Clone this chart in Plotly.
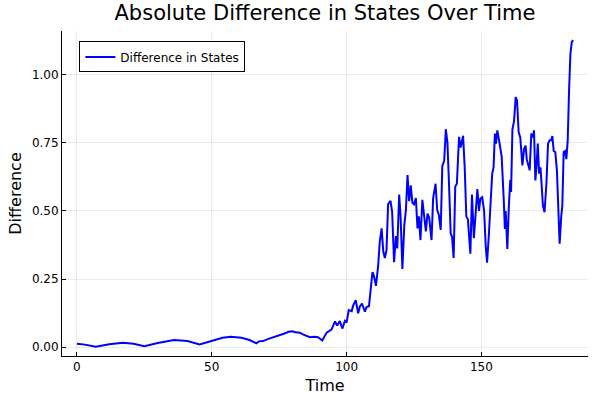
import plotly.graph_objects as go

time = [0, 3, 7, 12, 17, 21, 25, 30, 36, 41, 45.5, 50, 54, 57, 61, 64, 65.5, 66.5, 67.5, 69,
        71, 73, 75, 77, 78.5, 80, 81, 82.7, 84, 86.4, 88, 89.4, 91, 92.6, 94.4, 95.7, 96.5, 97.5,
        98.4, 99.4, 100, 100.8, 101.9, 102.5, 103.4, 104.3, 104.9, 105.7, 106.8, 107.4, 108.3,
        108.9, 109.6, 110.1, 110.9, 111.7, 112.3, 113, 113.6, 114.2, 114.8, 115.4, 116.3, 116.9,
        117.6, 118.3, 118.8, 119.5, 120, 120.7, 121.4, 122, 122.6, 123.2, 123.8, 124.4, 125,
        125.7, 126.3, 126.8, 127.4, 128.1, 128.7, 129.4, 130, 130.6, 131.5, 132.1, 133, 133.6,
        134.2, 134.9, 135.5, 136.2, 136.8, 137.4, 138, 138.6, 139.1, 139.7, 140.3, 140.9, 141.7,
        142.3, 143.2, 143.8, 144.4, 145, 145.9, 146.5, 147.2, 147.9, 148.5, 149.1, 149.6, 150.3,
        151, 151.6, 152.1, 152.8, 153.3, 154, 154.5, 155, 155.4, 155.9, 156.7, 157.5, 158.3,
        158.7, 159, 159.6, 160.2, 160.7, 161, 161.5, 162.1, 162.7, 163.2, 163.8, 164.4, 165.2,
        165.8, 166.4, 166.8, 167.4, 167.9, 168.5, 169.1, 169.5, 170, 170.4, 170.9, 171.4, 171.9,
        172.3, 172.8, 173.4, 174.1, 174.7, 175.3, 175.9, 176.3, 176.8, 177.4, 178, 178.5, 179,
        179.6, 180, 180.5, 181, 181.5, 182, 182.5, 183, 183.5, 184]

difference = [0.012, 0.009, 0.001, 0.010, 0.016, 0.012, 0.003, 0.015, 0.026, 0.022, 0.010, 0.022,
              0.034, 0.038, 0.034, 0.026, 0.020, 0.014, 0.021, 0.022, 0.030, 0.036, 0.044, 0.050,
              0.056, 0.058, 0.054, 0.053, 0.046, 0.036, 0.038, 0.036, 0.024, 0.053, 0.064, 0.094,
              0.079, 0.096, 0.068, 0.096, 0.090, 0.136, 0.132, 0.154, 0.172, 0.124, 0.148, 0.160,
              0.130, 0.147, 0.150, 0.207, 0.275, 0.263, 0.225, 0.297, 0.386, 0.436, 0.352, 0.327,
              0.355, 0.525, 0.537, 0.497, 0.312, 0.408, 0.362, 0.560, 0.486, 0.287, 0.448, 0.504,
              0.632, 0.536, 0.594, 0.530, 0.524, 0.547, 0.436, 0.480, 0.393, 0.541, 0.480, 0.425,
              0.490, 0.477, 0.393, 0.547, 0.600, 0.503, 0.486, 0.430, 0.665, 0.684, 0.800, 0.750,
              0.594, 0.418, 0.405, 0.327, 0.590, 0.600, 0.772, 0.733, 0.776, 0.660, 0.480, 0.468,
              0.343, 0.560, 0.400, 0.497, 0.580, 0.500, 0.545, 0.550, 0.500, 0.370, 0.310, 0.420,
              0.510, 0.637, 0.660, 0.784, 0.747, 0.796, 0.750, 0.700, 0.538, 0.434, 0.500, 0.360,
              0.523, 0.614, 0.570, 0.800, 0.830, 0.918, 0.906, 0.790, 0.770, 0.667, 0.727, 0.740,
              0.690, 0.670, 0.649, 0.784, 0.770, 0.796, 0.612, 0.660, 0.747, 0.637, 0.660, 0.600,
              0.520, 0.495, 0.600, 0.747, 0.760, 0.760, 0.775, 0.720, 0.716, 0.648, 0.525, 0.380,
              0.480, 0.520, 0.716, 0.720, 0.690, 0.760, 0.943, 1.077, 1.120, 1.127]

x_ticks = [0, 50, 100, 150]
y_ticks = [0.0, 0.25, 0.5, 0.75, 1.0]

pad_x = 0.03 * (max(time) - min(time))
pad_y = 0.03 * (max(difference) - min(difference))

font = "DejaVu Sans"
grid = "rgba(0,0,0,0.08)"

fig = go.Figure()
fig.add_trace(go.Scatter(x=time, y=difference, mode="lines", name="Difference in States",
                         line=dict(color="#0000FF", width=2)))

fig.update_layout(
    width=600, height=400,
    paper_bgcolor="white", plot_bgcolor="white",
    margin=dict(l=62, r=12, t=31, b=44, autoexpand=False),
    title=dict(text="Absolute Difference in States Over Time", x=0.5, xref="paper",
               y=1 - 12.5 / 400, yref="container", yanchor="middle", xanchor="center",
               font=dict(family=font, size=21, color="black")),
    showlegend=True,
    legend=dict(x=0.033, y=0.968, xanchor="left", yanchor="top", bgcolor="white",
                bordercolor="black", borderwidth=1, font=dict(family=font, size=12, color="black"),
                tracegroupgap=0, itemwidth=30),
    font=dict(family=font, color="black"),
)
fig.update_xaxes(range=[min(time) - pad_x, max(time) + pad_x], tickvals=x_ticks,
                 ticktext=[str(v) for v in x_ticks], automargin=False,
                 showline=True, linecolor="black", linewidth=1, mirror=False,
                 ticks="inside", ticklen=4, tickcolor="black",
                 showgrid=True, gridcolor=grid, gridwidth=1, zeroline=False,
                 tickfont=dict(family=font, size=12, color="black"),
                 title=dict(text="Time", font=dict(family=font, size=16, color="black"), standoff=6))
fig.update_yaxes(range=[min(difference) - pad_y, max(difference) + pad_y], tickvals=y_ticks,
                 ticktext=[f"{v:.2f}" for v in y_ticks], automargin=False,
                 showline=True, linecolor="black", linewidth=1, mirror=False,
                 ticks="inside", ticklen=4, tickcolor="black",
                 showgrid=True, gridcolor=grid, gridwidth=1, zeroline=False,
                 tickfont=dict(family=font, size=12, color="black"),
                 title=dict(text="Difference", font=dict(family=font, size=16, color="black"), standoff=6))

fig.write_html("out.html", config={"displayModeBar": False},
               post_script="document.body.style.margin='0';")
